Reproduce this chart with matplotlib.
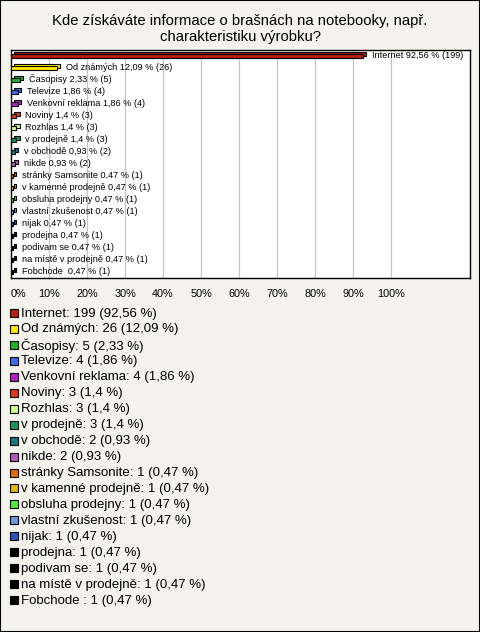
import matplotlib
matplotlib.use("Agg")
import matplotlib.pyplot as plt
from matplotlib.patches import Rectangle
from matplotlib.transforms import ScaledTranslation

categories = ["Internet", "Od známých", "Časopisy", "Televize", "Venkovní reklama",
              "Noviny", "Rozhlas", "v prodejně", "v obchodě", "nikde",
              "stránky Samsonite", "v kamenné prodejně", "obsluha prodejny",
              "vlastní zkušenost", "nijak", "prodejna", "podivam se",
              "na místě v prodejně", "Fobchode "]
counts = [199, 26, 5, 4, 4, 3, 3, 3, 2, 2, 1, 1, 1, 1, 1, 1, 1, 1, 1]
percents = [92.56, 12.09, 2.33, 1.86, 1.86, 1.4, 1.4, 1.4, 0.93, 0.93,
            0.47, 0.47, 0.47, 0.47, 0.47, 0.47, 0.47, 0.47, 0.47]
colors = ["#B82010", "#FFE600", "#22B522", "#3B6CE8", "#B81FCC", "#DD3A14",
          "#CCFF88", "#159955", "#127A88", "#B858B8", "#E06A00", "#E8B400",
          "#55E838", "#6A9BE0", "#2A55BB", "#000000", "#000000", "#000000", "#000000"]
ticks = list(range(0, 101, 10))
title = "Kde získáváte informace o brašnách na notebooky, např.\ncharakteristiku výrobku?"

def fmt(p):
    s = ("%.2f" % p).rstrip("0").rstrip(".")
    return s.replace(".", ",")

BG = "#F3F2EB"
FONT = "Liberation Sans"
W, H = 480, 632
fig = plt.figure(figsize=(W / 100, H / 100), dpi=100, facecolor=BG)

fig.patches.append(Rectangle((0, 0), 1, 1, transform=fig.transFigure, fill=False,
                             edgecolor="black", linewidth=1.5))

fig.text(0.5, 1 - 29 / H, title, ha="center", va="center", fontsize=10.7,
         family=FONT, linespacing=1.12)

ax_l, ax_r, ax_t, ax_b = 11, 470, 50, 278
ax = fig.add_axes([ax_l / W, 1 - ax_b / H, (ax_r - ax_l) / W, (ax_b - ax_t) / H])
ax.set_facecolor("white")
xmax = (ax_r - ax_l) / 380 * 100
ax.set_xlim(0, xmax)
n = len(categories)
ax.set_ylim(n - 0.5, -0.5)
for t in ticks:
    if t > 0:
        ax.axvline(t, color="#C4C4C4", linewidth=0.9, zorder=0)
for s in ax.spines.values():
    s.set_linewidth(1.0)
    s.set_color("black")

bh = 0.38
dx, dy = 3.2 / 100, 2.2 / 100  # inches
back = ax.transData + ScaledTranslation(dx, dy, fig.dpi_scale_trans)
for i, (p, c) in enumerate(zip(percents, colors)):
    r1 = Rectangle((0, i - bh / 2), p, bh, facecolor=c, edgecolor="black",
                   linewidth=0.8, transform=back, zorder=2)
    ax.add_patch(r1)
    r2 = Rectangle((0, i - bh / 2), p, bh, facecolor=c, edgecolor="black",
                   linewidth=0.8, zorder=3)
    ax.add_patch(r2)
    ax.annotate(f"{categories[i]} {fmt(p)} % ({counts[i]})", xy=(p, i),
                xytext=(6.5, 0.5), textcoords="offset points", ha="left", va="center",
                fontsize=6.6, family=FONT, zorder=4)

ax.set_yticks([])
ax.set_xticks(ticks)
ax.set_xticklabels([f"{t}%" for t in ticks], fontsize=7.8, family=FONT)
ax.tick_params(axis="x", length=0, pad=8)
lbls = ax.get_xticklabels()
lbls[0].set_ha("left")

y0 = 313
for i in range(n):
    y = y0 + 15.95 * i
    fig.patches.append(Rectangle((10 / W, 1 - (y + 4) / H), 8 / W, 8 / H,
                                 transform=fig.transFigure, facecolor=colors[i],
                                 edgecolor="black", linewidth=0.8))
    fig.text(21 / W, 1 - (y + 0.5) / H, f"{categories[i]}: {counts[i]} ({fmt(percents[i])} %)",
             ha="left", va="center", fontsize=9.5, family=FONT)

fig.savefig("out.png", dpi=100, facecolor=BG)
